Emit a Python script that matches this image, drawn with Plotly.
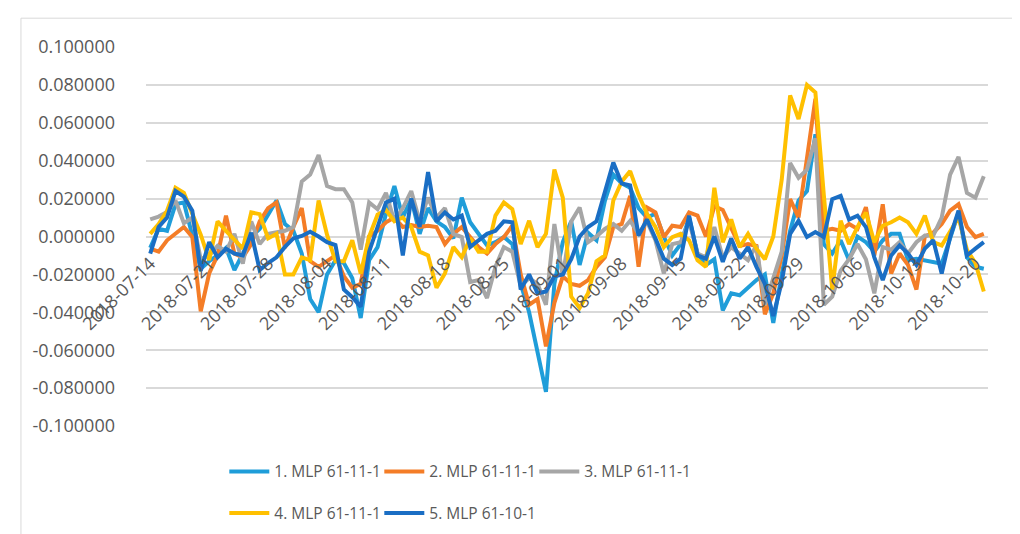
import pandas as pd
import plotly.graph_objects as go

# daily dates, 2018-07-14 .. 2018-10-21
dates = pd.date_range("2018-07-14", periods=100, freq="D")

names = ["1. MLP 61-11-1", "2. MLP 61-11-1", "3. MLP 61-11-1", "4. MLP 61-11-1", "5. MLP 61-10-1"]
colors = ["#1F9DD9", "#F47D27", "#A6A6A6", "#FFC000", "#1A6EC4"]

mlp1 = [-0.006, 0.004, 0.003, 0.017, 0.018, 0.001, -0.017, -0.013, -0.010, -0.006,
        -0.0177, -0.009, 0.000, 0.004, 0.012, 0.019, 0.0066, 0.003, -0.009, -0.033,
        -0.040, -0.020, -0.0125, -0.014, -0.022, -0.043, -0.0125, -0.0056, 0.012, 0.0266,
        0.010, 0.020, 0.0014, 0.015, 0.008, 0.005, -0.001, 0.0205, 0.0075, 0.0014,
        -0.0047, -0.003, -0.0003, -0.004, -0.025, -0.040, -0.061, -0.082, -0.025, -0.003,
        0.008, -0.015, 0.002, -0.002, 0.0188, 0.0327, 0.028, 0.0257, 0.015, 0.010,
        0.012, 0.000, -0.010, -0.004, 0.010, -0.009, -0.015, -0.012, -0.039, -0.030,
        -0.031, -0.027, -0.023, -0.020, -0.0456, -0.020, 0.003, 0.019, 0.024, 0.054,
        -0.004, -0.009, -0.002, -0.0125, 0.000, -0.003, -0.008, -0.002, 0.0014, 0.0014,
        -0.0125, -0.0117, -0.0125, -0.013, -0.0143, -0.001, 0.0127, -0.011, -0.016, -0.017]

mlp2 = [-0.0064, -0.008, -0.002, 0.0014, 0.005, -0.0003, -0.0395, -0.0195, -0.010, 0.011,
        -0.009, -0.011, -0.004, 0.008, 0.015, 0.018, -0.006, 0.005, 0.015, -0.013,
        -0.016, -0.013, -0.010, -0.021, -0.027, -0.025, 0.000, 0.003, 0.0075, 0.010,
        0.005, 0.006, 0.005, 0.0057, 0.005, -0.004, 0.0014, 0.005, 0.000, -0.0056,
        -0.009, -0.004, -0.0003, 0.0057, -0.020, -0.036, -0.033, -0.058, -0.035, -0.021,
        -0.025, -0.026, -0.023, -0.016, -0.011, 0.005, 0.0066, 0.0214, -0.016, 0.0153,
        0.0127, -0.0003, 0.0057, 0.005, 0.0127, 0.011, 0.000, 0.016, 0.014, 0.005,
        -0.005, -0.004, -0.005, -0.041, -0.030, -0.010, 0.0197, 0.010, 0.043, 0.0727,
        0.003, 0.004, 0.003, 0.0066, 0.004, 0.0155, -0.010, 0.017, -0.0195, -0.009,
        -0.015, -0.028, 0.000, 0.002, 0.0066, 0.0136, 0.017, 0.005, -0.0003, 0.0014]

mlp3 = [0.009, 0.0105, 0.013, 0.019, 0.007, 0.010, -0.012, -0.010, -0.005, -0.008,
        0.0014, -0.0143, 0.008, -0.004, 0.0014, 0.002, 0.003, 0.005, 0.029, 0.0327,
        0.043, 0.0266, 0.025, 0.025, 0.018, -0.007, 0.018, 0.0144, 0.023, 0.008,
        0.015, 0.024, 0.008, 0.0205, 0.010, 0.015, 0.0014, -0.0003, -0.024, -0.023,
        -0.0325, -0.016, -0.0056, -0.008, -0.026, -0.022, -0.025, -0.036, 0.0066, -0.021,
        0.008, 0.0153, -0.003, 0.000, 0.004, 0.0066, 0.003, 0.0083, 0.0014, 0.008,
        -0.002, -0.0195, -0.004, -0.003, 0.008, -0.009, -0.011, 0.005, -0.011, -0.0056,
        -0.009, -0.0125, -0.0047, -0.036, -0.022, -0.008, 0.0388, 0.031, 0.0353, 0.0518,
        -0.036, -0.0317, -0.018, -0.012, -0.004, -0.012, -0.030, -0.0056, -0.007, -0.003,
        -0.009, -0.003, 0.0005, 0.0005, 0.010, 0.0327, 0.042, 0.023, 0.0205, 0.0318]

mlp4 = [0.0014, 0.0066, 0.0136, 0.0257, 0.023, 0.012, 0.001, -0.0125, 0.008, 0.003,
        -0.002, -0.0064, 0.0127, 0.0118, -0.001, 0.0014, -0.020, -0.020, -0.011, -0.0125,
        0.019, 0.001, -0.013, -0.013, -0.002, -0.0195, 0.000, 0.0115, 0.014, 0.008,
        0.010, 0.005, -0.008, -0.010, -0.027, -0.0195, -0.0056, -0.011, -0.001, -0.008,
        -0.008, 0.011, 0.018, 0.0144, -0.004, 0.0083, -0.0056, 0.0014, 0.0353, 0.0205,
        -0.0317, -0.0377, -0.030, -0.013, -0.010, 0.019, 0.029, 0.0345, 0.022, 0.012,
        0.005, -0.0056, -0.0003, 0.0014, -0.002, -0.0125, -0.016, 0.0257, -0.003, 0.009,
        -0.0056, 0.0014, -0.0064, -0.012, 0.000, 0.030, 0.0744, 0.062, 0.080, 0.076,
        0.022, -0.028, 0.0083, -0.004, 0.005, 0.0127, -0.003, 0.0057, 0.0075, 0.010,
        0.0075, 0.0014, 0.011, -0.003, -0.0047, 0.003, 0.010, -0.007, -0.014, -0.029]

mlp5 = [-0.009, 0.005, 0.010, 0.024, 0.021, 0.0136, -0.018, -0.003, -0.011, -0.0065,
        -0.009, -0.010, 0.002, -0.0177, -0.014, -0.011, -0.0055, -0.001, 0.0003, 0.0025,
        0.000, -0.003, -0.0045, -0.028, -0.032, -0.037, -0.008, 0.005, 0.018, 0.020,
        -0.010, 0.020, 0.005, 0.034, 0.008, 0.0127, 0.009, 0.011, -0.0056, -0.002,
        0.0014, 0.003, 0.008, 0.0075, -0.028, -0.020, -0.030, -0.029, -0.021, -0.020,
        -0.012, 0.000, 0.005, 0.008, 0.024, 0.039, 0.028, 0.027, 0.0005, 0.009,
        -0.001, -0.0117, -0.015, -0.0117, 0.011, -0.010, -0.0117, 0.000, -0.0134, -0.001,
        -0.0117, -0.0056, -0.016, -0.025, -0.042, -0.024, 0.0014, 0.0083, -0.0003, 0.0023,
        -0.0003, 0.0197, 0.0214, 0.009, 0.011, 0.005, -0.011, -0.023, -0.010, -0.0047,
        -0.009, -0.015, -0.0064, -0.002, -0.0195, -0.0003, 0.0136, -0.010, -0.0064, -0.003]

series = [mlp1, mlp2, mlp3, mlp4, mlp5]

y_ticks = [-0.1, -0.08, -0.06, -0.04, -0.02, 0.0, 0.02, 0.04, 0.06, 0.08, 0.1]
y_labels = ["%.6f" % v for v in y_ticks]

txt = "#595959"
fnt = "Open Sans"

fig = go.Figure()
for k in range(5):
    fig.add_trace(go.Scatter(x=dates, y=series[k], mode="lines", name=names[k],
                             line=dict(color=colors[k], width=4),
                             legend="legend" if k < 3 else "legend2"))

fig.update_layout(
    width=1020, height=534,
    margin=dict(l=138, r=40, t=39, b=114),
    paper_bgcolor="white", plot_bgcolor="white",
    font=dict(family=fnt, color=txt, size=18),
    legend=dict(orientation="h", x=0.093, xanchor="left", y=-0.121, yanchor="middle",
                itemwidth=40, entrywidth=100, font=dict(size=15.5, color=txt)),
    legend2=dict(orientation="h", x=0.093, xanchor="left", y=-0.231, yanchor="middle",
                 itemwidth=40, entrywidth=100, font=dict(size=15.5, color=txt)),
)

fig.update_xaxes(type="date", range=["2018-07-13 12:00", "2018-10-21 12:00"],
                 tick0="2018-07-14", dtick=7 * 86400000, tickformat="%Y-%m-%d",
                 tickangle=-45, anchor="free", position=0.5, showgrid=False,
                 showline=False, zeroline=False, ticks="", ticklabelstandoff=12,
                 tickfont=dict(size=18, color=txt))
fig.update_yaxes(range=[-0.1, 0.1], tickvals=y_ticks, ticktext=y_labels,
                 showgrid=True, gridcolor="#D9D9D9", gridwidth=1.5, zeroline=False,
                 showline=False, ticks="", ticklabelstandoff=30,
                 tickfont=dict(size=18, color=txt))

# chart area border
fig.add_shape(type="rect", xref="paper", yref="paper",
              x0=-0.1485, x1=1.06, y0=-0.33, y1=1.076,
              line=dict(color="#D9D9D9", width=1))

fig.write_html("out.html")
